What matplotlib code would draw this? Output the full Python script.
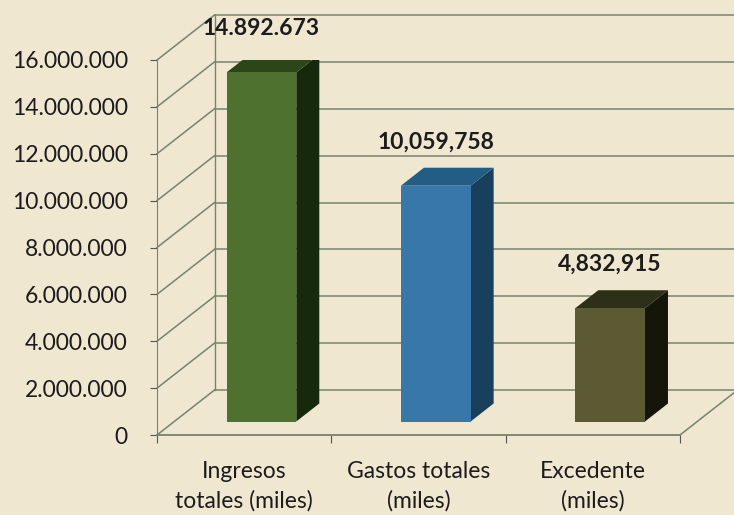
import numpy as np
import matplotlib.pyplot as plt
from matplotlib.patches import Polygon

# data
categories = ['Ingresos\ntotales (miles)', 'Gastos totales\n(miles)', 'Excedente\n(miles)']
values = [14892673, 10059758, 4832915]
value_labels = ['14.892.673', '10,059,758', '4,832,915']
yticks = [0, 2e6, 4e6, 6e6, 8e6, 10e6, 12e6, 14e6, 16e6]
ytick_labels = ['0', '2.000.000', '4.000.000', '6.000.000', '8.000.000',
                '10.000.000', '12.000.000', '14.000.000', '16.000.000']

front_colors = ['#4e7130', '#3877aa', '#5b5a33']
top_colors = ['#2c4619', '#225d86', '#2e2f18']
side_colors = ['#17290c', '#183f5c', '#161509']

bg = '#f0e7d1'
grid_c = '#76836f'
txt_c = '#1c1c1c'

plt.rcParams['font.family'] = ['Lato', 'DejaVu Sans']

fig = plt.figure(figsize=(7.34, 5.15), dpi=100, facecolor=bg)
ax = fig.add_axes([157/734, 1 - 435/515, 523/734, 375/515])
ax.set_facecolor('none')
ax.set_xlim(-0.5, 2.5)
ax.set_ylim(0, 16e6)

# fake 3d depth offset (data units)
DX, DY = 0.33, 1.92e6
x0, x1 = -0.5, 2.5

# back wall gridlines + left wall diagonals
for v in yticks:
    ax.plot([x0 + DX, x1 + DX + 0.5], [v + DY, v + DY], color=grid_c, lw=1.1,
            clip_on=False, zorder=1)
    ax.plot([x0, x0 + DX], [v, v + DY], color=grid_c, lw=1.1, clip_on=False, zorder=1)
ax.plot([x0 + DX, x0 + DX], [DY, 16e6 + DY], color=grid_c, lw=1.0, clip_on=False, zorder=1)
# floor
ax.plot([x0, x1], [0, 0], color=grid_c, lw=1.3, clip_on=False, zorder=2)
ax.plot([x1, x1 + DX], [0, DY], color=grid_c, lw=1.1, clip_on=False, zorder=2)

# bars
f0, f1 = 0.3, 0.7
w = 0.4
for i, (v, lab) in enumerate(zip(values, value_labels)):
    xl = i - w / 2 + f0 * DX
    xr = xl + w
    yb = f0 * DY
    yt = yb + v
    ddx, ddy = (f1 - f0) * DX, (f1 - f0) * DY
    ax.add_patch(Polygon([(xr, yb), (xr + ddx, yb + ddy), (xr + ddx, yt + ddy), (xr, yt)],
                         closed=True, facecolor=side_colors[i], edgecolor='none', zorder=3))
    ax.add_patch(Polygon([(xl, yt), (xr, yt), (xr + ddx, yt + ddy), (xl + ddx, yt + ddy)],
                         closed=True, facecolor=top_colors[i], edgecolor='none', zorder=3))
    ax.add_patch(Polygon([(xl, yb), (xr, yb), (xr, yt), (xl, yt)],
                         closed=True, facecolor=front_colors[i], edgecolor='none', zorder=4))
    ax.annotate(lab, (i + f0 * DX, yt + ddy), xytext=(0, 11), textcoords='offset points',
                ha='center', va='bottom', fontsize=16.5, fontweight='bold', color=txt_c,
                annotation_clip=False)

# axes styling
for s in ['top', 'right', 'bottom']:
    ax.spines[s].set_visible(False)
ax.spines['left'].set_color(grid_c)
ax.set_yticks(yticks)
ax.set_yticklabels(ytick_labels, fontsize=16.5, color=txt_c)
ax.tick_params(axis='y', length=5, color='#555555', pad=16)
ax.set_xticks([-0.5, 0.5, 1.5, 2.5])
ax.set_xticklabels([])
ax.tick_params(axis='x', length=6, color='#555555', direction='out')
for i, c in enumerate(categories):
    ax.annotate(c, (i, 0), xytext=(0, -19), textcoords='offset points', ha='center',
                va='top', fontsize=16.5, color=txt_c, linespacing=1.45,
                annotation_clip=False)

plt.savefig('out.png', dpi=100, facecolor=bg)
